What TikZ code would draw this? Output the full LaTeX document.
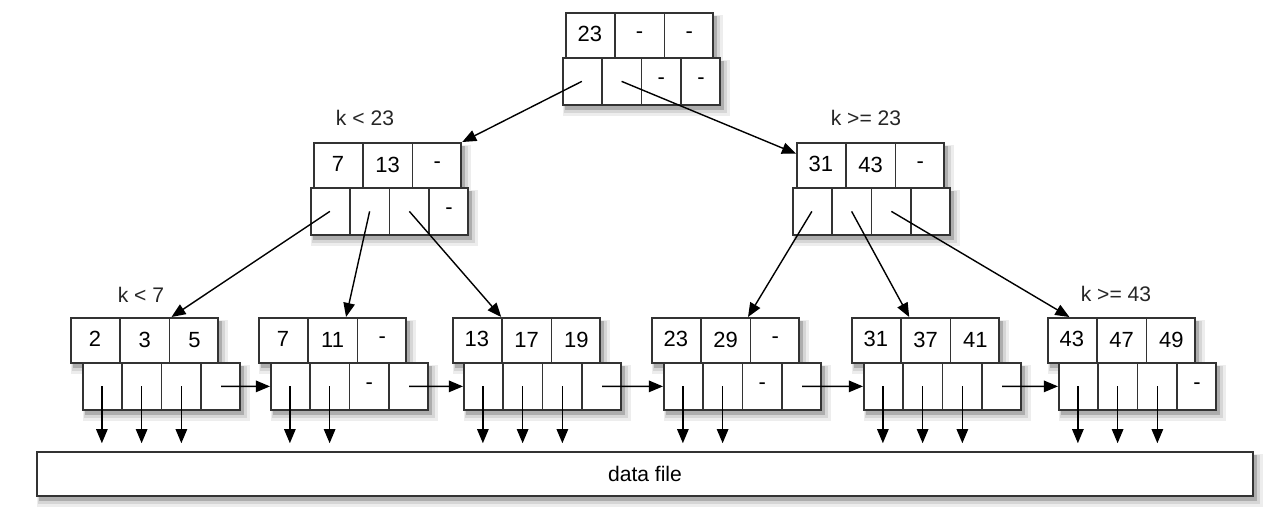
\documentclass[tikz,border=0pt]{standalone}
\usepackage{fontspec}
\setmainfont{Liberation Sans}
\usetikzlibrary{shapes.multipart,calc,arrows.meta}
\pgfdeclarelayer{bg}
\pgfsetlayers{bg,main}

\begin{document}
\begin{tikzpicture}[
  x=0.02cm, y=-0.02cm,
  % Key row and pointer row of one tree node
  keyrow/.style={rectangle split, rectangle split horizontal, rectangle split parts=3, rectangle split ignore empty parts=false, draw=black!80, fill=white, line width=1pt, inner sep=0pt, text width=0.96cm, align=center, text height=0.58cm, text depth=0.32cm, font=\fontsize{12.5}{14}\selectfont, anchor=north west},
  ptrrow/.style={keyrow, rectangle split parts=4, text width=0.76cm, text height=0.6cm, text depth=0.34cm},
  datafile/.style={rectangle, draw=black!80, fill=white, line width=1pt, minimum width=24.32cm, minimum height=0.88cm, font=\fontsize{12}{14}\selectfont},
  cond/.style={font=\fontsize{12}{14}\selectfont, text=black!85},
  % Soft shadow layers
  shadowfar/.style={fill=black!7},
  shadowmid/.style={fill=black!16},
  shadownear/.style={fill=black!32},
  % Pointer arrows
  link/.style={-{Triangle[length=8pt,width=6.5pt]}, line width=0.8pt, black}
]
\useasboundingbox (0,0) rectangle (1276,518);

% Layer 1: Root
\node[keyrow] (rtk) at (565,12) {23\nodepart{two}-\nodepart{three}-};
\node[ptrrow] (rtp) at (562,57) {\nodepart{two}\nodepart{three}-\nodepart{four}-};

% Layer 2: Inner nodes
\node[keyrow] (lik) at (313,142) {7\nodepart{two}13\nodepart{three}-};
\node[ptrrow] (lip) at (310,187) {\nodepart{two}\nodepart{three}\nodepart{four}-};
\node[keyrow] (rik) at (796,142) {31\nodepart{two}43\nodepart{three}-};
\node[ptrrow] (rip) at (792,187) {\nodepart{two}\nodepart{three}\nodepart{four}};

% Layer 3: Leaves
\node[keyrow] (l1k) at (70,317) {2\nodepart{two}3\nodepart{three}5};
\node[ptrrow] (l1p) at (82,362) {\nodepart{two}\nodepart{three}\nodepart{four}};
\node[keyrow] (l2k) at (258,317) {7\nodepart{two}11\nodepart{three}-};
\node[ptrrow] (l2p) at (270,362) {\nodepart{two}\nodepart{three}-\nodepart{four}};
\node[keyrow] (l3k) at (452,317) {13\nodepart{two}17\nodepart{three}19};
\node[ptrrow] (l3p) at (463,362) {\nodepart{two}\nodepart{three}\nodepart{four}};
\node[keyrow] (l4k) at (651,317) {23\nodepart{two}29\nodepart{three}-};
\node[ptrrow] (l4p) at (663,362) {\nodepart{two}\nodepart{three}-\nodepart{four}};
\node[keyrow] (l5k) at (851,317) {31\nodepart{two}37\nodepart{three}41};
\node[ptrrow] (l5p) at (863,362) {\nodepart{two}\nodepart{three}\nodepart{four}};
\node[keyrow] (l6k) at (1047,317) {43\nodepart{two}47\nodepart{three}49};
\node[ptrrow] (l6p) at (1058,362) {\nodepart{two}\nodepart{three}\nodepart{four}-};

% Layer 4: Data file
\node[datafile] (data) at (645,474) {data file};

% Shadows behind all boxes
\begin{pgfonlayer}{bg}
\foreach \n in {rtk,rtp,lik,lip,rik,rip,l1k,l1p,l2k,l2p,l3k,l3p,l4k,l4p,l5k,l5p,l6k,l6p,data} {
  \fill[shadowfar] ($(\n.north west)+(1,3)$) rectangle ($(\n.south east)+(9,10)$);
  \fill[shadowmid] ($(\n.north west)+(2,4)$) rectangle ($(\n.south east)+(6,7)$);
  \fill[shadownear] ($(\n.north west)+(3,4)$) rectangle ($(\n.south east)+(3,4)$);
}
\end{pgfonlayer}

% Range labels
\node[cond] (c23a) at (365,118) {k < 23};
\node[cond] (c23b) at (866,118) {k >= 23};
\node[cond] (c7) at (141,295) {k < 7};
\node[cond] (c43) at (1116,294) {k >= 43};

% Centres of the pointer cells
\foreach \n in {rt,li,ri,l1,l2,l3,l4,l5,l6}
  \foreach \i in {1,2,3,4}
    \coordinate (\n c\i) at ($(\n p.west)!{(\i-0.5)/4}!(\n p.east)$);

% Layer 5: Tree pointers
\draw[link] (rtc1) -- (lik.north east);
\draw[link] (rtc2) -- ($(rik.north west)!0.25!(rik.south west)$);
\draw[link] (lic1) -- ($(l1k.north west)!0.68!(l1k.north east)$);
\draw[link] (lic2) -- ($(l2k.north west)!0.59!(l2k.north east)$);
\draw[link] (lic3) -- ($(l3k.north west)!0.33!(l3k.north east)$);
\draw[link] (ric1) -- ($(l4k.north west)!0.65!(l4k.north east)$);
\draw[link] (ric2) -- ($(l5k.north west)!0.39!(l5k.north east)$);
\draw[link] (ric3) -- ($(l6k.north west)!0.15!(l6k.north east)$);

% Leaf chain
\foreach \a/\b in {l1/l2,l2/l3,l3/l4,l4/l5,l5/l6}
  \draw[link] (\a c4) -- (\b p.west);

% Record pointers into the data file
\foreach \c in {l1c1,l1c2,l1c3,l2c1,l2c2,l3c1,l3c2,l3c3,l4c1,l4c2,l5c1,l5c2,l5c3,l6c1,l6c2,l6c3}
  \draw[link, shorten >=4.5pt] (\c) -- (\c |- data.north);

\end{tikzpicture}
\end{document}
